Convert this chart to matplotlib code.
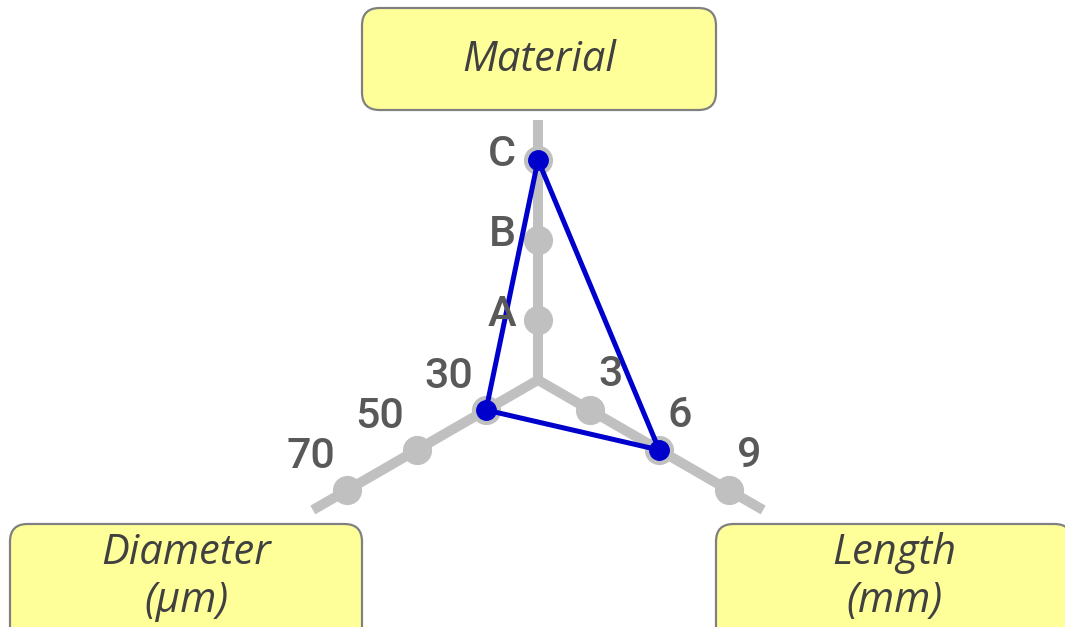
import matplotlib.pyplot as plt
import numpy as np
from matplotlib.patches import FancyBboxPatch

# axes of the chart: name, direction (degrees), tick labels
axis_names = ['Material', 'Diameter\n(µm)', 'Length\n(mm)']
axis_angles = [90, 210, 330]
axis_ticks = [['A', 'B', 'C'], ['30', '50', '70'], ['3', '6', '9']]

# the single profile (chosen tick on each axis)
profile = ['C', '30', '6']

if __name__ == "__main__":
    fig = plt.figure(figsize=(10.65, 6.27), dpi=100)
    ax = fig.add_axes([0, 0, 1, 1])
    ax.set_xlim(-538 / 80, 527 / 80)
    ax.set_ylim(-247 / 80, 380 / 80)
    ax.set_aspect('equal')
    ax.axis('off')

    grey = '#c0c0c0'
    axis_len = 3.25
    offset = 0.25  # first tick sits a bit inside 1 step

    # label offsets in pixels for each axis
    label_off = [(-36, 6), (-37, 34), (21, 35)]

    pts = []
    for name, ang, ticks, lo, val in zip(axis_names, axis_angles, axis_ticks, label_off, profile):
        a = np.radians(ang)
        ux, uy = np.cos(a), np.sin(a)
        ax.plot([0, axis_len * ux], [0, axis_len * uy], color=grey, lw=7.2,
                solid_capstyle='butt', zorder=1)
        r = np.arange(1, len(ticks) + 1) - offset
        ax.plot(r * ux, r * uy, 'o', color=grey, ms=20, zorder=2)
        for ri, t in zip(r, ticks):
            ax.annotate(t, (ri * ux, ri * uy), xytext=lo, textcoords='offset pixels',
                        ha='center', va='center', fontsize=31, color='#595959',
                        family='Roboto', weight='medium', zorder=5)
        k = ticks.index(val) + 1 - offset
        pts.append((k * ux, k * uy))

    px = [p[0] for p in pts] + [pts[0][0]]
    py = [p[1] for p in pts] + [pts[0][1]]
    ax.plot(px, py, color='#0000cc', lw=3.6, zorder=3)
    ax.plot(px[:-1], py[:-1], 'o', color='#0000cc', ms=14, zorder=4)

    # title boxes: (x0, y0, w, h) in data units
    boxes = [(-2.2, 3.375, 4.425, 1.275), (-6.6, -3.4, 4.4, 1.6), (2.225, -3.4, 4.45, 1.6)]
    text_pos = [(0.01, 4.0), (-4.4, -2.46), (4.45, -2.46)]
    for (x0, y0, w, h), (tx, ty), name in zip(boxes, text_pos, axis_names):
        box = FancyBboxPatch((x0 + 0.22, y0 + 0.22), w - 0.44, h - 0.44,
                             boxstyle='round,pad=0.22', fc='#ffff99', ec='#808080',
                             lw=1.6, zorder=6)
        ax.add_patch(box)
        ax.text(tx, ty, name, ha='center', va='center', fontsize=30, style='italic',
                color='#404040', family='Open Sans', linespacing=1.2, zorder=7)

    fig.savefig('out.png', dpi=100)
